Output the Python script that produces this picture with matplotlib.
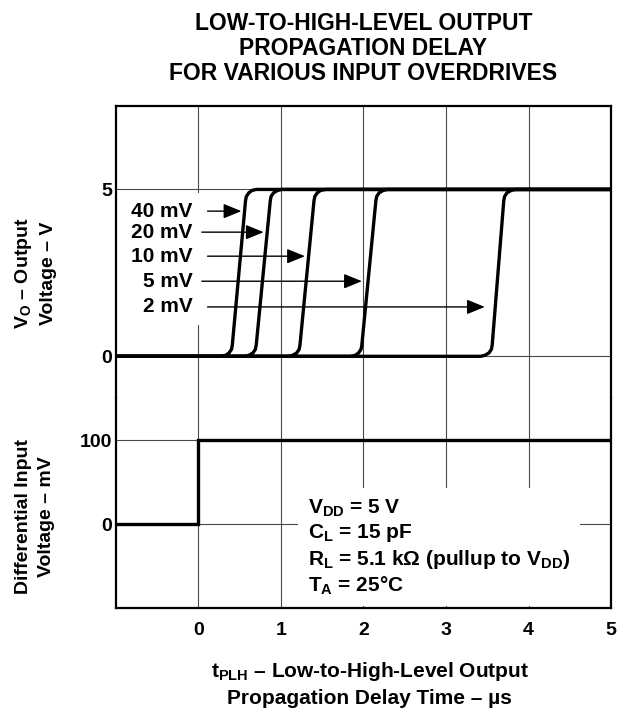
"""
Low-to-high-level output propagation delay
for various input overdrives
"""
import matplotlib
matplotlib.use("Agg")
import matplotlib.pyplot as plt

plt.rcParams['font.family'] = ['Liberation Sans', 'DejaVu Sans']
plt.rcParams['font.weight'] = 'bold'
plt.rcParams['mathtext.fontset'] = 'custom'
plt.rcParams['mathtext.rm'] = 'Liberation Sans:bold'
plt.rcParams['mathtext.it'] = 'Liberation Sans:bold'
plt.rcParams['mathtext.bf'] = 'Liberation Sans:bold'

# output voltage levels (V) shared by every trace, read along the rounded steps
vo_levels = [0, 0, 0.03, 0.10, 0.21, 0.34, 4.66, 4.79, 4.90, 4.97, 5, 5]
# time (us) at each level, one trace per overdrive
t_40mv = [-1, 0.27, 0.33, 0.37, 0.40, 0.41, 0.57, 0.58, 0.61, 0.65, 0.70, 5]
t_20mv = [-1, 0.56, 0.61, 0.66, 0.69, 0.70, 0.87, 0.88, 0.91, 0.96, 1.01, 5]
t_10mv = [-1, 1.09, 1.14, 1.19, 1.22, 1.23, 1.40, 1.41, 1.44, 1.48, 1.54, 5]
t_5mv = [-1, 1.84, 1.90, 1.94, 1.97, 1.98, 2.15, 2.16, 2.19, 2.24, 2.29, 5]
t_2mv = [-1, 3.42, 3.47, 3.52, 3.55, 3.56, 3.70, 3.71, 3.74, 3.79, 3.84, 5]

overdrive_labels = ['40 mV', '20 mV', '10 mV', '5 mV', '2 mV']
arrow_v = [4.35, 3.72, 3.0, 2.25, 1.48]
arrow_tail = [0.11, 0.04, 0.11, 0.04, 0.11]
arrow_tip = [0.52, 0.79, 1.29, 1.98, 3.47]

# differential input step (mV)
t_in = [-1, 0, 0, 5]
mv_in = [0, 0, 100, 100]

x_ticks = [0, 1, 2, 3, 4, 5]

fig = plt.figure(figsize=(6.29, 7.08), dpi=100)
ax_out = fig.add_axes([0.1844, 0.4378, 0.787, 0.4125])
ax_in = fig.add_axes([0.1844, 0.1412, 0.787, 0.2966])

for ax in (ax_out, ax_in):
    ax.set_xlim(-1, 5)
    ax.set_xticks(x_ticks)
    ax.grid(True, color='#4a4a4a', linewidth=0.8)
    ax.tick_params(length=0, labelsize=14)
    for s in ax.spines.values():
        s.set_linewidth(1.6)
        s.set_zorder(5)

ax_out.spines['bottom'].set_visible(False)
ax_in.spines['top'].set_visible(False)

# output traces
ax_out.set_ylim(-1.25, 7.5)
ax_out.set_yticks([0, 5])
ax_out.tick_params(axis='x', labelbottom=False)
ax_out.tick_params(axis='y', pad=3)
for t in (t_40mv, t_20mv, t_10mv, t_5mv, t_2mv):
    ax_out.plot(t, vo_levels, color='black', linewidth=2.4,
                solid_joinstyle='round', solid_capstyle='butt')

# white backing behind the overdrive labels first, then the labels on top
for lab, v in zip(overdrive_labels, arrow_v):
    ax_out.text(-0.07, v, lab, ha='right', va='center', fontsize=15, color='white',
                zorder=3, bbox=dict(facecolor='white', edgecolor='none', pad=6))
for lab, v, x0, x1 in zip(overdrive_labels, arrow_v, arrow_tail, arrow_tip):
    ax_out.text(-0.07, v, lab, ha='right', va='center', fontsize=15, zorder=4)
    ax_out.annotate('', xy=(x1, v), xytext=(x0, v),
                    arrowprops=dict(arrowstyle='-|>,head_length=1.1,head_width=0.45',
                                    color='black', lw=1.0, mutation_scale=10,
                                    shrinkA=0, shrinkB=0))

# input step
ax_in.set_ylim(-100, 150)
ax_in.set_yticks([0, 100])
ax_in.tick_params(axis='x', pad=10)
ax_in.tick_params(axis='y', pad=3)
ax_in.plot(t_in, mv_in, color='black', linewidth=2.4, solid_joinstyle='miter')

cond = ('V$_{DD}$ = 5 V\n'
        'C$_{L}$ = 15 pF\n'
        'R$_{L}$ = 5.1 k\u03a9 (pullup to V$_{DD}$)\n'
        'T$_{A}$ = 25\u00b0C')
ax_in.text(1.33, 31, cond, ha='left', va='top', fontsize=15, linespacing=1.2,
           bbox=dict(facecolor='white', edgecolor='none', pad=7))

fig.text(0.578, 0.983, 'LOW-TO-HIGH-LEVEL OUTPUT\nPROPAGATION DELAY\nFOR VARIOUS INPUT OVERDRIVES',
         ha='center', va='top', fontsize=16.5, linespacing=1.12)
fig.text(0.056, 1 - 273 / 708, 'V$_{O}$ \u2013 Output\nVoltage \u2013 V',
         rotation=90, ha='center', va='center', fontsize=14, linespacing=1.45,
         multialignment='center')
fig.text(0.056, 1 - 517 / 708, 'Differential Input\nVoltage \u2013 mV',
         rotation=90, ha='center', va='center', fontsize=14, linespacing=1.45,
         multialignment='center')
fig.text(0.588, 1 - 684 / 708,
         't$_{PLH}$ \u2013 Low-to-High-Level Output\nPropagation Delay Time \u2013 \u00b5s',
         ha='center', va='center', fontsize=15, linespacing=1.35)

fig.savefig('out.png', dpi=100)
